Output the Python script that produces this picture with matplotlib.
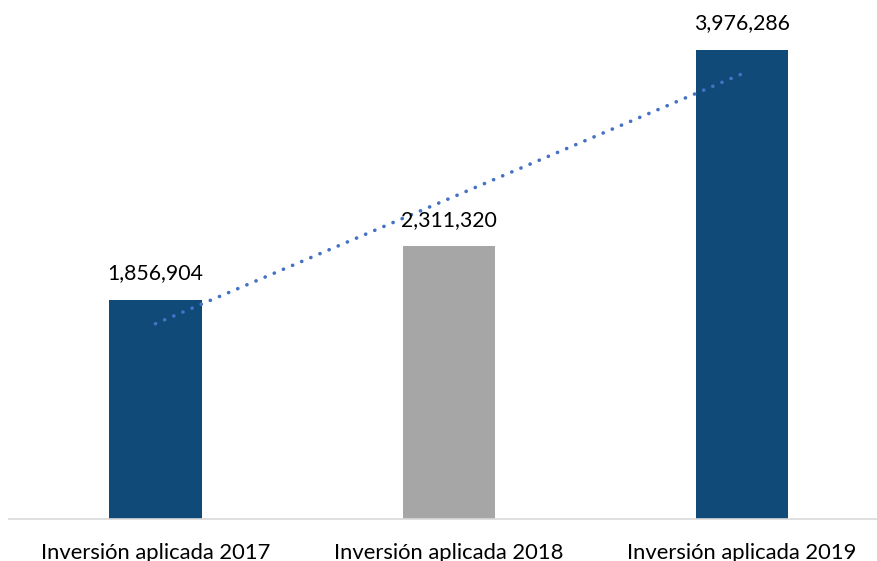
import matplotlib
matplotlib.use("Agg")
import matplotlib.pyplot as plt
import numpy as np

plt.rcParams['font.family'] = ['Lato', 'DejaVu Sans']

categories = ['Inversión aplicada 2017', 'Inversión aplicada 2018', 'Inversión aplicada 2019']
values = [1856904, 2311320, 3976286]
colors = ['#0F4A78', '#A6A6A6', '#0F4A78']

fig = plt.figure(figsize=(8.78, 5.61), dpi=100)
ax = fig.add_axes([8.8 / 878, 1 - 519 / 561, (878 - 8.8) / 878, 519 / 561])

x = np.arange(len(values))
ax.bar(x, values, width=0.314, color=colors, zorder=2)

# linear trend line
slope, intercept = np.polyfit(x, values, 1)
ax.plot(x[[0, -1]], slope * x[[0, -1]] + intercept, color='#4472C4', linewidth=2.6,
        linestyle=(0, (0.05, 2.7)), dash_capstyle='round', solid_capstyle='round', zorder=3)

for xi, v in zip(x, values):
    ax.annotate(f'{v:,}', (xi, v), xytext=(0, 19), textcoords='offset points',
                ha='center', va='center', fontsize=15.3, color='black', zorder=4)

ax.set_xlim(-0.5, (878 - 155.5) / 293.3)
ax.set_ylim(0, 4400000)
ax.set_yticks([])
ax.set_xticks(x)
ax.set_xticklabels(categories, fontsize=15.8)
ax.tick_params(axis='x', length=0, pad=17)
for s in ['top', 'right', 'left']:
    ax.spines[s].set_visible(False)
ax.spines['bottom'].set_color('#D9D9D9')
ax.spines['bottom'].set_linewidth(1.2)

fig.savefig('out.png', dpi=100)
